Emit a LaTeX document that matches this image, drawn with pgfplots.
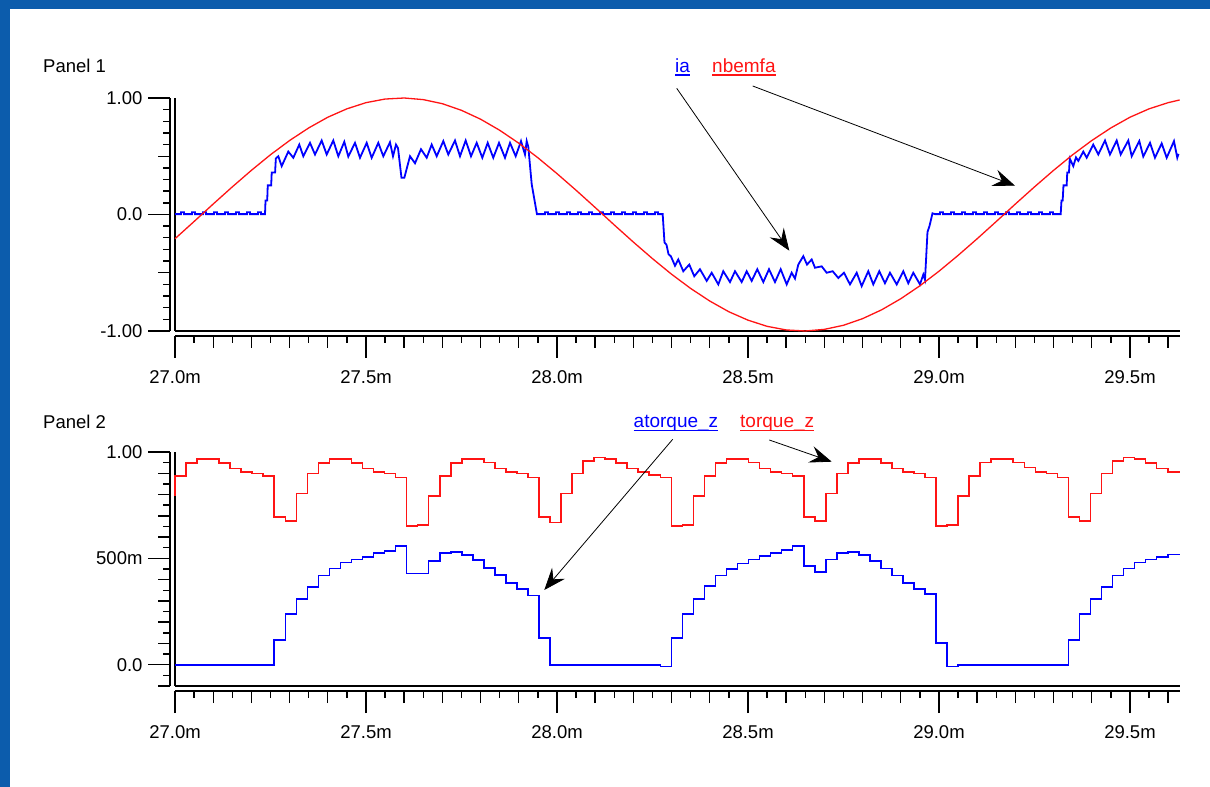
\documentclass[border=0pt]{standalone}
\usepackage{pgfplots}
\pgfplotsset{compat=1.18}
\usepackage{fontspec}
\setmainfont{Liberation Sans}
\usetikzlibrary{arrows.meta}
\definecolor{bgblue}{RGB}{12,92,172}
\definecolor{pblue}{RGB}{0,0,255}
\definecolor{pred}{RGB}{255,20,20}
\newcommand{\tfont}{\fontsize{18.5}{22}\selectfont}
\newcommand{\lfont}{\fontsize{19}{22}\selectfont}
\pgfplotsset{
  ruler/.style={
    scale only axis, width=1005pt,
    xmin=27, xmax=29.631,
    axis x line*=bottom, axis y line*=left,
    axis line style={line width=1.6pt, black},
    tick align=outside,
    major tick length=22pt, minor tick length=7pt,
    every tick/.append style={line width=1.4pt, black},
    xtick style={yshift=-5pt},
    ytick style={xshift=-5pt},
    xtick={27,27.5,28,28.5,29,29.5},
    xticklabels={27.0m,27.5m,28.0m,28.5m,29.0m,29.5m},
    minor xtick={27.05,27.15,27.25,27.35,27.45,27.55,27.65,27.75,27.85,27.95,28.05,28.15,28.25,28.35,28.45,28.55,28.65,28.75,28.85,28.95,29.05,29.15,29.25,29.35,29.45,29.55},
    extra x ticks={27.1,27.2,27.3,27.4,27.6,27.7,27.8,27.9,28.1,28.2,28.3,28.4,28.6,28.7,28.8,28.9,29.1,29.2,29.3,29.4,29.6},
    extra x tick labels={},
    extra x tick style={major tick length=12pt},
    extra y tick labels={},
    extra y tick style={major tick length=12pt},
    tick label style={font=\tfont, black},
    xticklabel style={yshift=-14pt},
    yticklabel style={xshift=-7pt},
    clip=false,
  }
}
\begin{document}
\begin{tikzpicture}[x=1pt,y=1pt]
\fill[bgblue] (0,0) rectangle (1210,787);
\fill[white] (10,0) rectangle (1210,778);

% ---------------- Panel 1 ----------------
\begin{axis}[ruler,
  at={(175pt,456pt)}, anchor=south west, height=233pt,
  ymin=-1, ymax=1,
  ytick={-1,0,1}, yticklabels={-1.00,0.0,1.00},
  minor ytick={-0.9,-0.8,-0.7,-0.6,-0.4,-0.3,-0.2,-0.1,0.1,0.2,0.3,0.4,0.6,0.7,0.8,0.9},
  extra y ticks={-0.5,0.5},
]
\addplot[pblue, line width=1.8pt] coordinates {
(27.0000,0.003)
(27.0157,0.003)(27.0157,0.02)(27.0236,0.02)(27.0236,0.003)
(27.0445,0.003)(27.0445,0.02)(27.0524,0.02)(27.0524,0.003)
(27.0733,0.003)(27.0733,0.02)(27.0812,0.02)(27.0812,0.003)
(27.1021,0.003)(27.1021,0.02)(27.1099,0.02)(27.1099,0.003)
(27.1309,0.003)(27.1309,0.02)(27.1387,0.02)(27.1387,0.003)
(27.1597,0.003)(27.1597,0.02)(27.1675,0.02)(27.1675,0.003)
(27.1885,0.003)(27.1885,0.02)(27.1963,0.02)(27.1963,0.003)
(27.2173,0.003)(27.2173,0.02)(27.2251,0.02)(27.2251,0.003)
(27.2356,0.003)(27.2370,0.12)(27.2414,0.12)(27.2428,0.25)(27.2518,0.25)(27.2532,0.36)(27.2620,0.36)(27.2640,0.48)
(27.2704,0.50)(27.2793,0.415)(27.2966,0.54)(27.3097,0.487)(27.3254,0.60)(27.3359,0.50)(27.3534,0.615)(27.3665,0.515)
(27.3840,0.635)(27.3971,0.515)(27.4144,0.635)(27.4275,0.50)(27.4432,0.624)(27.4537,0.497)(27.4712,0.615)(27.4843,0.487)
(27.5018,0.615)(27.5149,0.487)(27.5322,0.615)(27.5453,0.50)(27.5628,0.62)(27.5707,0.50)(27.5785,0.60)(27.5838,0.57)
(27.5929,0.315)(27.6003,0.315)(27.6152,0.50)(27.6283,0.44)
(27.6440,0.56)(27.6589,0.487)(27.6720,0.60)(27.6851,0.50)(27.7024,0.63)(27.7154,0.515)(27.7330,0.635)(27.7461,0.50)
(27.7610,0.635)(27.7749,0.50)(27.7898,0.615)(27.8045,0.487)(27.8186,0.615)(27.8332,0.487)(27.8482,0.615)(27.8639,0.487)
(27.8770,0.615)(27.8919,0.50)(27.9058,0.63)(27.9162,0.515)(27.9207,0.63)(27.9249,0.58)(27.9338,0.26)(27.9469,0.015)
(27.9476,0.003)
(27.9686,0.003)(27.9686,0.02)(27.9764,0.02)(27.9764,0.003)
(27.9974,0.003)(27.9974,0.02)(28.0052,0.02)(28.0052,0.003)
(28.0262,0.003)(28.0262,0.02)(28.0340,0.02)(28.0340,0.003)
(28.0550,0.003)(28.0550,0.02)(28.0628,0.02)(28.0628,0.003)
(28.0838,0.003)(28.0838,0.02)(28.0916,0.02)(28.0916,0.003)
(28.1126,0.003)(28.1126,0.02)(28.1204,0.02)(28.1204,0.003)
(28.1414,0.003)(28.1414,0.02)(28.1492,0.02)(28.1492,0.003)
(28.1702,0.003)(28.1702,0.02)(28.1780,0.02)(28.1780,0.003)
(28.1990,0.003)(28.1990,0.02)(28.2068,0.02)(28.2068,0.003)
(28.2277,0.003)(28.2277,0.02)(28.2356,0.02)(28.2356,0.003)
(28.2565,0.003)(28.2565,0.02)(28.2644,0.02)(28.2644,0.003)
(28.2767,0.003)(28.2814,-0.24)(28.2867,-0.26)(28.2919,-0.34)(28.2984,-0.36)
(28.3089,-0.44)(28.3175,-0.386)(28.3306,-0.487)(28.3463,-0.43)(28.3594,-0.53)(28.3743,-0.47)(28.3919,-0.57)(28.4050,-0.50)
(28.4223,-0.60)(28.4353,-0.487)(28.4529,-0.58)(28.4660,-0.487)(28.4835,-0.58)(28.4966,-0.487)(28.5097,-0.57)(28.5243,-0.47)
(28.5401,-0.58)(28.5550,-0.47)(28.5707,-0.58)(28.5856,-0.47)(28.6013,-0.60)(28.6144,-0.50)(28.6230,-0.55)(28.6317,-0.43)
(28.6448,-0.358)(28.6545,-0.43)(28.6668,-0.386)(28.6754,-0.457)(28.6929,-0.445)(28.7060,-0.50)(28.7217,-0.487)(28.7364,-0.545)
(28.7513,-0.50)(28.7670,-0.60)(28.7846,-0.50)(28.7976,-0.615)(28.8149,-0.487)(28.8280,-0.60)(28.8437,-0.487)(28.8586,-0.59)
(28.8717,-0.50)(28.8893,-0.60)(28.9065,-0.487)(28.9196,-0.59)(28.9327,-0.50)(28.9503,-0.60)(28.9589,-0.515)(28.9634,-0.56)
(28.9699,-0.15)(28.9751,-0.10)(28.9830,0.01)
(28.9900,0.003)
(29.0026,0.003)(29.0026,0.02)(29.0105,0.02)(29.0105,0.003)
(29.0314,0.003)(29.0314,0.02)(29.0393,0.02)(29.0393,0.003)
(29.0602,0.003)(29.0602,0.02)(29.0681,0.02)(29.0681,0.003)
(29.0890,0.003)(29.0890,0.02)(29.0969,0.02)(29.0969,0.003)
(29.1178,0.003)(29.1178,0.02)(29.1257,0.02)(29.1257,0.003)
(29.1466,0.003)(29.1466,0.02)(29.1545,0.02)(29.1545,0.003)
(29.1754,0.003)(29.1754,0.02)(29.1832,0.02)(29.1832,0.003)
(29.2042,0.003)(29.2042,0.02)(29.2120,0.02)(29.2120,0.003)
(29.2330,0.003)(29.2330,0.02)(29.2408,0.02)(29.2408,0.003)
(29.2618,0.003)(29.2618,0.02)(29.2696,0.02)(29.2696,0.003)
(29.2906,0.003)(29.2906,0.02)(29.2984,0.02)(29.2984,0.003)
(29.3186,0.003)(29.3207,0.12)(29.3238,0.12)(29.3259,0.25)(29.3342,0.25)(29.3358,0.36)(29.3403,0.36)(29.3424,0.48)
(29.3516,0.415)(29.3586,0.49)(29.3647,0.46)(29.3778,0.54)(29.3867,0.487)(29.4039,0.60)(29.4170,0.515)(29.4346,0.635)
(29.4476,0.515)(29.4652,0.635)(29.4757,0.515)(29.4956,0.635)(29.5045,0.50)(29.5244,0.63)(29.5348,0.497)(29.5524,0.615)
(29.5654,0.487)(29.5830,0.61)(29.5961,0.487)(29.6152,0.63)(29.6238,0.487)(29.6270,0.52)
};
\addplot[pred, line width=1.3pt] coordinates {
(27.00,-0.208)(27.05,-0.060)(27.10,0.090)(27.15,0.237)(27.20,0.379)(27.25,0.513)(27.30,0.635)(27.35,0.743)
(27.40,0.835)(27.45,0.907)(27.50,0.960)(27.55,0.991)(27.60,1.000)(27.65,0.986)(27.70,0.951)(27.75,0.894)
(27.80,0.818)(27.85,0.723)(27.90,0.612)(27.95,0.487)(28.00,0.351)(28.05,0.208)(28.10,0.060)(28.15,-0.090)
(28.20,-0.237)(28.25,-0.379)(28.30,-0.513)(28.35,-0.635)(28.40,-0.743)(28.45,-0.835)(28.50,-0.907)(28.55,-0.960)
(28.60,-0.991)(28.65,-1.000)(28.70,-0.986)(28.75,-0.951)(28.80,-0.894)(28.85,-0.818)(28.90,-0.723)(28.95,-0.612)
(29.00,-0.487)(29.05,-0.351)(29.10,-0.208)(29.15,-0.060)(29.20,0.090)(29.25,0.237)(29.30,0.379)(29.35,0.513)
(29.40,0.635)(29.45,0.743)(29.50,0.835)(29.55,0.907)(29.60,0.960)(29.63,0.983)
};
\draw[line width=1.6pt] ([yshift=-5pt]axis description cs:0,0) -- ([yshift=-5pt]axis description cs:1,0);
\draw[line width=1.6pt] ([xshift=-5pt]axis description cs:0,0) -- ([xshift=-5pt]axis description cs:0,1);
\end{axis}

% ---------------- Panel 2 ----------------
\begin{axis}[ruler,
  at={(175pt,101pt)}, anchor=south west, height=234pt,
  ymin=-0.1, ymax=1,
  ytick={0,0.5,1}, yticklabels={0.0,500m,1.00},
  minor ytick={-0.05,0.05,0.15,0.25,0.35,0.45,0.55,0.65,0.75,0.85,0.95},
  extra y ticks={-0.1,0.1,0.2,0.3,0.4,0.6,0.7,0.8,0.9},
]
\addplot[pred, line width=1.6pt, const plot] coordinates {
(27.0000,0.794)(27.0000,0.888)(27.0289,0.948)(27.0578,0.967)(27.1155,0.948)(27.1444,0.923)(27.1733,0.907)(27.2021,0.898)
(27.2310,0.888)(27.2599,0.695)(27.2888,0.675)(27.3176,0.805)(27.3465,0.898)(27.3754,0.948)(27.4043,0.967)(27.4620,0.948)
(27.4909,0.923)(27.5198,0.907)(27.5486,0.898)(27.5775,0.880)(27.6064,0.652)(27.6353,0.658)(27.6641,0.794)(27.6930,0.888)
(27.7219,0.948)(27.7508,0.967)(27.8085,0.951)(27.8374,0.923)(27.8663,0.907)(27.8951,0.898)(27.9240,0.880)(27.9529,0.695)
(27.9818,0.668)(28.0106,0.805)(28.0395,0.898)(28.0684,0.959)(28.0973,0.975)(28.1261,0.967)(28.1550,0.948)(28.1839,0.923)
(28.2128,0.907)(28.2416,0.891)(28.2705,0.880)(28.2994,0.652)(28.3283,0.658)(28.3571,0.794)(28.3860,0.888)(28.4149,0.948)
(28.4438,0.967)(28.5015,0.951)(28.5304,0.923)(28.5593,0.907)(28.5881,0.898)(28.6170,0.888)(28.6459,0.695)(28.6748,0.675)
(28.7036,0.805)(28.7325,0.898)(28.7614,0.948)(28.7903,0.967)(28.8480,0.948)(28.8769,0.923)(28.9058,0.907)(28.9346,0.898)
(28.9635,0.880)(28.9924,0.652)(29.0213,0.658)(29.0501,0.794)(29.0790,0.888)(29.1079,0.951)(29.1368,0.967)(29.1945,0.951)
(29.2234,0.928)(29.2523,0.907)(29.2811,0.898)(29.3100,0.880)(29.3389,0.695)(29.3678,0.675)(29.3966,0.805)(29.4255,0.898)
(29.4544,0.959)(29.4833,0.975)(29.5121,0.967)(29.5410,0.948)(29.5699,0.923)(29.5988,0.907)(29.6300,0.907)
};
\addplot[pblue, line width=1.6pt, const plot] coordinates {
(27.0000,0)(27.2599,0.115)(27.2888,0.239)(27.3176,0.310)(27.3465,0.366)(27.3754,0.420)(27.4043,0.453)(27.4331,0.480)
(27.4620,0.495)(27.4909,0.506)(27.5198,0.524)(27.5486,0.535)(27.5775,0.558)(27.6064,0.429)(27.6641,0.487)(27.6930,0.524)
(27.7219,0.531)(27.7508,0.516)(27.7796,0.491)(27.8085,0.456)(27.8374,0.421)(27.8663,0.385)(27.8951,0.357)(27.9240,0.325)
(27.9529,0.126)(27.9818,0)(28.2705,-0.008)(28.2994,0.126)(28.3283,0.239)(28.3571,0.310)(28.3860,0.369)(28.4149,0.420)
(28.4438,0.451)(28.4726,0.476)(28.5015,0.495)(28.5304,0.511)(28.5593,0.524)(28.5881,0.539)(28.6170,0.558)(28.6459,0.464)
(28.6748,0.435)(28.7036,0.495)(28.7325,0.524)(28.7614,0.531)(28.7903,0.516)(28.8191,0.487)(28.8480,0.453)(28.8769,0.420)
(28.9058,0.385)(28.9346,0.357)(28.9635,0.333)(28.9924,0.102)(29.0213,-0.008)(29.0501,0)(29.3389,0.115)(29.3678,0.239)
(29.3966,0.310)(29.4255,0.366)(29.4544,0.420)(29.4833,0.453)(29.5121,0.480)(29.5410,0.495)(29.5699,0.506)(29.5988,0.519)
(29.6300,0.519)
};
\draw[line width=1.6pt] ([yshift=-5pt]axis description cs:0,0) -- ([yshift=-5pt]axis description cs:1,0);
\draw[line width=1.6pt] ([xshift=-5pt]axis description cs:0,0) -- ([xshift=-5pt]axis description cs:0,1);
\end{axis}

% ---------------- titles, labels and arrows ----------------
\node[anchor=base west, inner sep=0, font=\tfont] at (43,714) {Panel 1};
\node[anchor=base west, inner sep=0, font=\tfont] at (43,358) {Panel 2};

\node[anchor=base west, inner sep=0, font=\lfont, text=pblue] (ia) at (675,714.5) {ia};
\draw[pblue, line width=1.2pt] ([yshift=-2.5pt]ia.base west) -- ([yshift=-2.5pt]ia.base east);
\node[anchor=base west, inner sep=0, font=\lfont, text=pred] (nb) at (712,714.5) {nbemfa};
\draw[pred, line width=1.2pt] ([yshift=-2.5pt]nb.base west) -- ([yshift=-2.5pt]nb.base east);

\node[anchor=base west, inner sep=0, font=\lfont, text=pblue] (at) at (633.5,359) {atorque\_z};
\draw[pblue, line width=1.2pt] ([yshift=-2.8pt]at.base west) -- ([yshift=-2.8pt]at.base east);
\node[anchor=base west, inner sep=0, font=\lfont, text=pred] (tq) at (740,359) {torque\_z};
\draw[pred, line width=1.2pt] ([yshift=-2.8pt]tq.base west) -- ([yshift=-2.8pt]tq.base east);

\tikzset{ann/.style={line width=0.8pt, black, -{Stealth[length=22pt,width=17pt,inset=8pt]}}}
\draw[ann] (676.7,698.7) -- (789.3,536.3);
\draw[ann] (752.7,701) -- (1015,601.3);
\draw[ann] (672.7,347.7) -- (544.3,197);
\draw[ann] (769.3,347) -- (831.7,325.3);
\end{tikzpicture}
\end{document}
